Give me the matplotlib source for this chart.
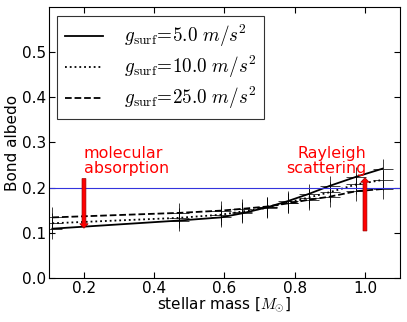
import numpy as np
import matplotlib
matplotlib.use('Agg')
import matplotlib.pyplot as plt

plt.rcParams['mathtext.fontset'] = 'cm'
plt.rcParams['font.size'] = 10

# stellar masses of the model grid
masses = [0.11, 0.47, 0.59, 0.65, 0.72, 0.78, 0.84, 0.90, 0.975, 1.05]

# bond albedo for each surface gravity
albedo_g5 = [0.109, 0.127, 0.134, 0.143, 0.156, 0.170, 0.186, 0.204, 0.224, 0.242]
albedo_g10 = [0.121, 0.133, 0.140, 0.147, 0.155, 0.167, 0.178, 0.190, 0.207, 0.217]
albedo_g25 = [0.134, 0.144, 0.149, 0.153, 0.158, 0.165, 0.173, 0.180, 0.192, 0.197]

labels = [r'$g_{\rm surf}\!=\!5.0\ m/s^2$',
          r'$g_{\rm surf}\!=\!10.0\ m/s^2$',
          r'$g_{\rm surf}\!=\!25.0\ m/s^2$']

fig = plt.figure(figsize=(4.07, 3.22), dpi=100)
ax = fig.add_axes([0.12, 0.137, 0.863, 0.841])

styles = ['-', ':', '--']
for series, ls, lab in zip([albedo_g5, albedo_g10, albedo_g25], styles, labels):
    ax.plot(masses, series, ls=ls, color='k', lw=1.3, label=lab)
    ax.plot(masses, series, ls='none', marker='+', ms=15, mew=0.7, color='k', alpha=0.75)

ax.axhline(0.2, color='#3333dd', lw=0.8)

# arrows + annotations
ax.arrow(0.2, 0.22, 0, -0.11, width=0.011, head_width=0.024, head_length=0.01,
         length_includes_head=True, fc='red', ec='#990000', lw=0.5, zorder=5)
ax.arrow(1.0, 0.104, 0, 0.118, width=0.011, head_width=0.024, head_length=0.01,
         length_includes_head=True, fc='red', ec='#990000', lw=0.5, zorder=5)
ax.text(0.2, 0.225, 'molecular\nabsorption', color='red', ha='left', va='bottom',
        fontsize=11.4, linespacing=1.0)
ax.text(1.005, 0.225, 'Rayleigh\nscattering', color='red', ha='right', va='bottom',
        fontsize=11.4, linespacing=1.0)

ax.set_xlim(0.1, 1.1)
ax.set_ylim(0.0, 0.6)
ax.set_xticks([0.2, 0.4, 0.6, 0.8, 1.0])
ax.set_yticks([0.0, 0.1, 0.2, 0.3, 0.4, 0.5])
ax.tick_params(direction='in', top=True, right=True, length=4, pad=2, labelsize=11)
ax.set_xlabel(r'stellar mass [$M_{\odot}$]', fontsize=11, labelpad=0)
ax.set_ylabel('Bond albedo', fontsize=11, labelpad=1)

leg = ax.legend(loc='upper left', fontsize=13.75, fancybox=False, labelspacing=0.25,
                handlelength=2.0, handletextpad=1.1, borderpad=0.4, borderaxespad=0.45)
leg.get_frame().set_edgecolor('k')
leg.get_frame().set_linewidth(0.8)

fig.savefig('out.png', dpi=100)
